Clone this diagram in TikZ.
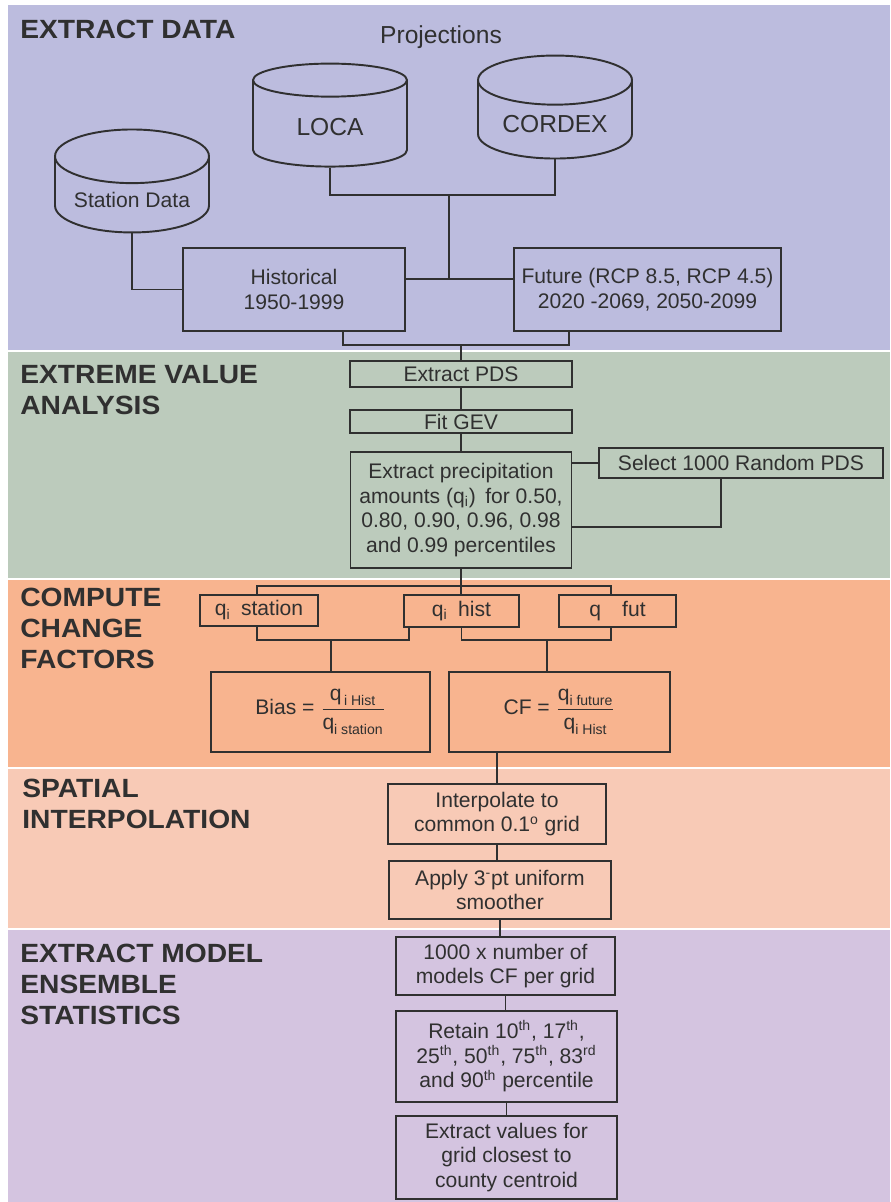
\documentclass[tikz,border=0pt]{standalone}
\usepackage{amsmath}
\usepackage{fontspec}
\setmainfont{Liberation Sans}
\newfontfamily\stagefont[FakeStretch=1.07]{Liberation Sans}
\usetikzlibrary{shapes.geometric}

\definecolor{bandA}{HTML}{BCBCDE}
\definecolor{bandB}{HTML}{BCCBBC}
\definecolor{bandC}{HTML}{F8B48F}
\definecolor{bandD}{HTML}{F8CAB6}
\definecolor{bandE}{HTML}{D4C4E0}
\definecolor{ink}{HTML}{303030}

\begin{document}
\begin{tikzpicture}[
                    x=0.02cm, y=-0.02cm,
                    box/.style={
                        draw=ink,
                        line width=1.1pt,
                        align=center,
                        inner sep=2pt,
                        text=ink,
                        font=\fontsize{12}{14}\selectfont
                    },
                    db/.style={
                        cylinder,
                        shape border rotate=90,
                        aspect=0.42,
                        draw=ink,
                        line width=1.1pt,
                        text=ink,
                        minimum width=3.08cm,
                        minimum height=2.06cm
                    },
                    stage/.style={
                        anchor=north west,
                        inner sep=0pt,
                        align=left,
                        text=ink,
                        font=\stagefont\bfseries\fontsize{15}{17.5}\selectfont
                    },
                    wire/.style={draw=ink, line width=1.1pt}
                ]
                    % Bands
                    \fill[white] (0,0) rectangle (890,1202);
                    \fill[bandA] (8,5) rectangle (890,350);
                    \fill[bandB] (8,352) rectangle (890,578);
                    \fill[bandC] (8,580) rectangle (890,767);
                    \fill[bandD] (8,769) rectangle (890,928);
                    \fill[bandE] (8,930) rectangle (890,1202);

                    \node[stage] (t1) at (20,20) {EXTRACT DATA};
                    \node[stage] (t2) at (20,365) {EXTREME VALUE\\ANALYSIS};
                    \node[stage] (t3) at (20,588) {COMPUTE\\CHANGE\\FACTORS};
                    \node[stage] (t4) at (22,779) {SPATIAL\\INTERPOLATION};
                    \node[stage] (t5) at (20,944) {EXTRACT MODEL\\ENSEMBLE\\STATISTICS};

                    % Data sources
                    \node[text=ink, font=\fontsize{14}{16}\selectfont] (proj) at (441,37) {Projections};
                    \node[db, font=\fontsize{12}{14}\selectfont] (stat) at (132,200) {Station Data};
                    \node[db, font=\fontsize{14}{16}\selectfont] (loca) at (330,127) {LOCA};
                    \node[db, font=\fontsize{14}{16}\selectfont] (cordex) at (555,124.5) {CORDEX};
                    \node[box, minimum width=4.44cm, minimum height=1.66cm] (hist) at (294,289.5) {Historical\\1950-1999};
                    \node[box, minimum width=5.34cm, minimum height=1.66cm] (fut) at (647.5,289.5) {Future (RCP 8.5, RCP 4.5)\\2020 -2069, 2050-2099};

                    % Extreme value analysis
                    \node[box, minimum width=4.44cm, minimum height=0.52cm] (pds) at (461,374) {Extract PDS};
                    \node[box, minimum width=4.44cm, minimum height=0.46cm] (gev) at (461,421.5) {Fit GEV};
                    \node[box, minimum width=4.42cm, minimum height=2.32cm] (prec) at (461,510) {Extract precipitation\\amounts (q\textsubscript{i})\, for 0.50,\\0.80, 0.90, 0.96, 0.98\\and 0.99 percentiles};
                    \node[box, minimum width=5.68cm, minimum height=0.6cm] (sel) at (741,463) {Select 1000 Random PDS};

                    % Change factors
                    \node[box, minimum width=2.36cm, minimum height=0.62cm] (qst) at (259,610.5) {q\textsubscript{i}\enspace station};
                    \node[box, minimum width=2.3cm, minimum height=0.64cm] (qhi) at (461.5,611) {q\textsubscript{i}\enspace hist};
                    \node[box, minimum width=2.34cm, minimum height=0.64cm] (qfu) at (617.5,611) {q\quad fut};
                    \node[box, minimum width=4.38cm, minimum height=1.6cm] (bias) at (320.5,712) {Bias = $\dfrac{\text{q}_{\text{\,i Hist}}}{\text{q}_{\text{i station}}}$};
                    \node[box, minimum width=4.42cm, minimum height=1.6cm] (cf) at (559.5,712) {CF = $\dfrac{\text{q}_{\text{i future}}}{\text{q}_{\text{i Hist}}}$};

                    % Interpolation and ensemble
                    \node[box, minimum width=4.36cm, minimum height=1.2cm] (interp) at (497,814) {Interpolate to\\common 0.1\textsuperscript{o} grid};
                    \node[box, minimum width=4.44cm, minimum height=1.16cm] (smooth) at (500,890) {Apply 3\textsuperscript{-}pt uniform\\smoother};
                    \node[box, minimum width=4.38cm, minimum height=1.16cm] (ens) at (505.5,966) {1000 x number of\\models CF per grid};
                    \node[box, minimum width=4.42cm, minimum height=1.82cm] (ret) at (506.5,1056.5) {Retain 10\textsuperscript{th}, 17\textsuperscript{th},\\25\textsuperscript{th}, 50\textsuperscript{th}, 75\textsuperscript{th}, 83\textsuperscript{rd}\\and 90\textsuperscript{th} percentile};
                    \node[box, minimum width=4.42cm, minimum height=1.66cm] (cent) at (506.5,1157.5) {Extract values for\\grid closest to\\county centroid};

                    % Edges
                    \coordinate (pj) at (449,195);
                    \coordinate (hj) at (449,279);
                    \coordinate (hb) at (343,345);
                    \coordinate (fb) at (569,345);
                    \coordinate (sj) at (721,527);
                    \coordinate (ql) at (257,586);
                    \coordinate (qr) at (611,586);
                    \coordinate (bl) at (409,640);
                    \coordinate (br) at (611,640);
                    \coordinate (bj) at (331,640);
                    \coordinate (cj) at (547,640);
                    \draw[wire] (loca.south) |- (pj) -| (cordex.south);
                    \draw[wire] (pj) -- (hj);
                    \draw[wire] (hist.east |- hj) -- (fut.west |- hj);
                    \draw[wire] (stat.south) |- (hist.west);
                    \draw[wire] (hist.south -| hb) -- (hb) -- (fb) -- (fut.south -| fb);
                    \draw[wire] (pds.north |- hb) -- (pds.north);
                    \draw[wire] (pds) -- (gev);
                    \draw[wire] (gev) -- (prec);
                    \draw[wire] (prec.east |- sel.west) -- (sel.west);
                    \draw[wire] (sj |- sel.south) -- (sj) -- (prec.east |- sj);
                    \draw[wire] (qst.north -| ql) -- (ql) -- (qr) -- (qfu.north -| qr);
                    \draw[wire] (prec.south) -- (prec.south |- qhi.north);
                    \draw[wire] (qst.south -| ql) |- (bl) -- (qhi.south -| bl);
                    \draw[wire] (qhi.south) |- (br) -- (qfu.south -| br);
                    \draw[wire] (bj) -- (bj |- bias.north);
                    \draw[wire] (cj) -- (cj |- cf.north);
                    \draw[wire] (cf.south -| interp.north) -- (interp.north);
                    \draw[wire] (interp.south) -- (interp.south |- smooth.north);
                    \draw[wire] (smooth.south) -- (smooth.south |- ens.north);
                    \draw[wire] (ens.south) -- (ens.south |- ret.north);
                    \draw[wire] (ret.south) -- (ret.south |- cent.north);
                \end{tikzpicture}
\end{document}
